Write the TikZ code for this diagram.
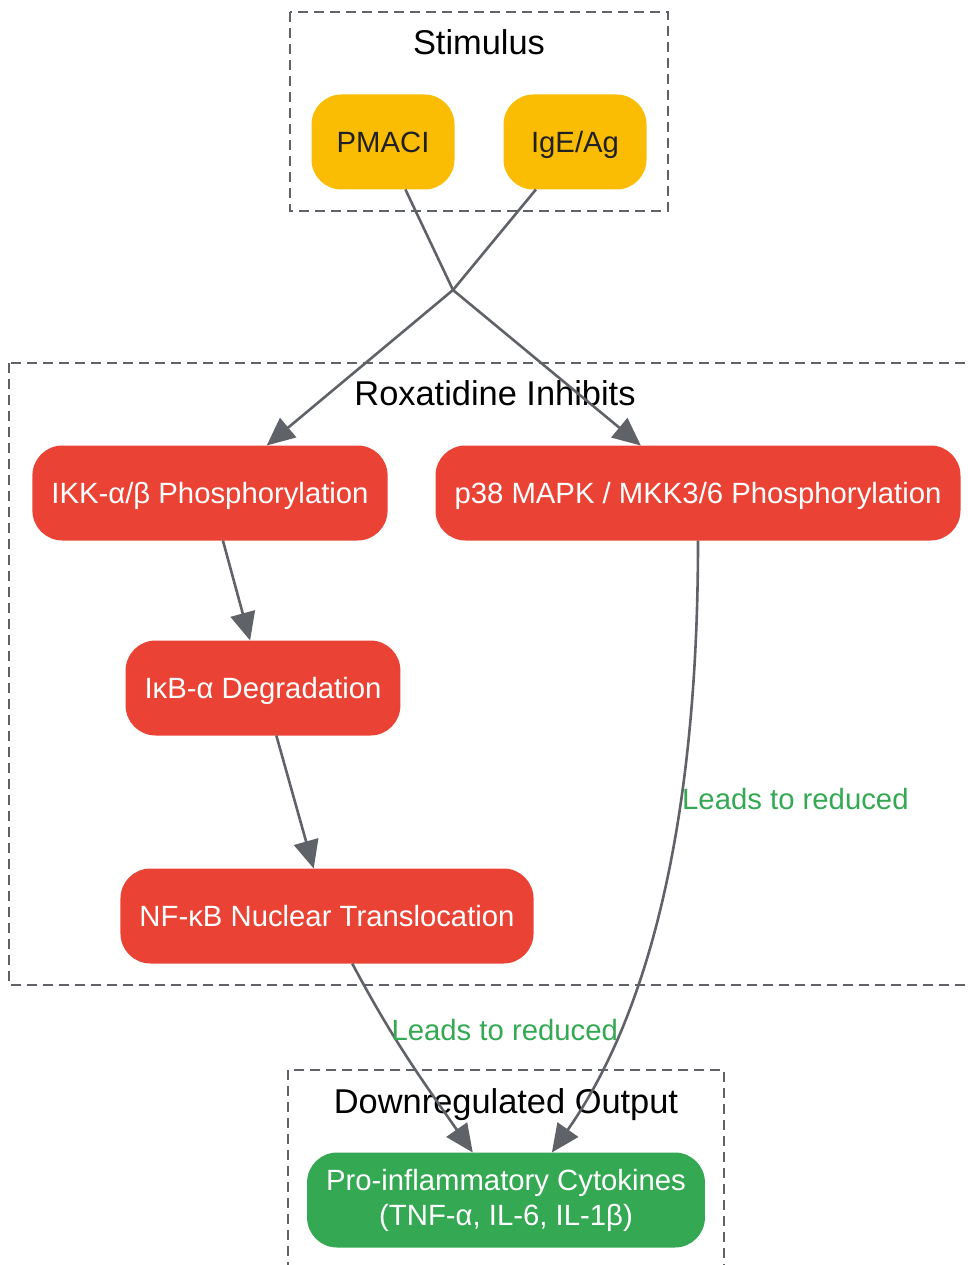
\documentclass[tikz,border=0pt]{standalone}
\usepackage{fontspec}
\setmainfont{Liberation Sans}
\usepackage{tikz}
\usetikzlibrary{arrows.meta}
\definecolor{edgegray}{HTML}{5F6368}
\definecolor{stimyellow}{HTML}{FBBC04}
\definecolor{inhred}{HTML}{EA4335}
\definecolor{outgreen}{HTML}{34A853}
\definecolor{darktext}{HTML}{202124}
\tikzset{
	pill/.style={rectangle, rounded corners=30pt, minimum height=95pt, inner xsep=19pt, outer sep=0pt, font=\fontsize{29.3}{35}\selectfont},
	oneline/.style={pill, text height=21pt, text depth=0pt},
	stim/.style={oneline, fill=stimyellow, text=darktext, minimum width=143pt},
	inh/.style={oneline, fill=inhred, text=white},
	outp/.style={pill, fill=outgreen, text=white, align=center},
	cluster/.style={draw=edgegray, line width=2.6pt, dash pattern=on 10pt off 6pt},
	ctitle/.style={anchor=base, font=\fontsize{34.4}{40}\selectfont},
	flow/.style={draw=edgegray, line width=2.6pt, -{Triangle[length=28pt, width=25pt]}},
	lbl/.style={text=outgreen, anchor=west, inner sep=0pt, text height=21pt, text depth=0pt, font=\fontsize{29.3}{35}\selectfont}
}
\begin{document}
\begin{tikzpicture}[x=1pt, y=1pt]
	\useasboundingbox (0,0) rectangle (968,-1265);
	\draw[cluster] (290,-12) rectangle (668,-211);
	\draw[cluster] (9,-363) rectangle (985,-985);
	\draw[cluster] (288,-1070) rectangle (724,-1290);
	\node[ctitle] (t-stim) at (479,-55) {Stimulus};
	\node[ctitle] (t-inh) at (495,-405) {Roxatidine Inhibits};
	\node[ctitle] (t-out) at (506,-1113) {Downregulated Output};

	\node[stim] (pmaci) at (383,-142) {PMACI};
	\node[stim] (ige) at (575,-142) {IgE/Ag};
	\coordinate (m) at (453,-290);
	\node[inh] (ikk) at (210,-493) {IKK-α/β Phosphorylation};
	\node[inh] (p38) at (698,-493) {p38 MAPK / MKK3/6 Phosphorylation};
	\node[inh] (ikb) at (263,-688) {IκB-α Degradation};
	\node[inh] (nfkb) at (327,-916) {NF-κB Nuclear Translocation};
	\node[outp] (cyto) at (506,-1200) {Pro-inflammatory Cytokines\\(TNF-α, IL-6, IL-1β)};

	\path[every edge/.style={flow}]
		(pmaci) edge[-] (m)
		(ige) edge[-] (m)
		(m) edge (ikk) edge (p38)
		(ikk) edge (ikb)
		(ikb) edge (nfkb)
		(nfkb) edge[out=-62, in=125] node[lbl, pos=0.33] {Leads to reduced} (cyto)
		(p38.south) edge[out=-90, in=55, out looseness=1.2, in looseness=0.65] node[lbl, pos=0.33] {Leads to reduced} (cyto.46);
\end{tikzpicture}
\end{document}
